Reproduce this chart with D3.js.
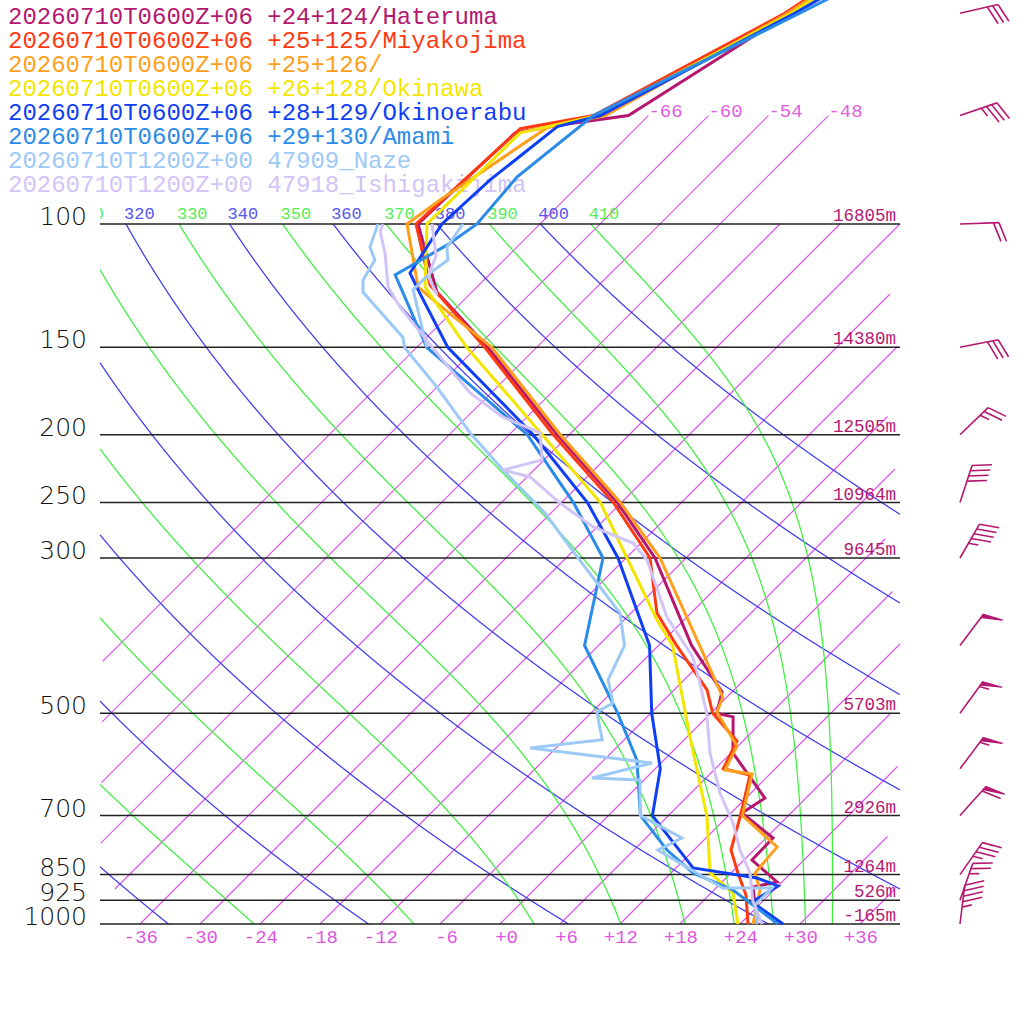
<!DOCTYPE html>
<html>
<head>
<meta charset="utf-8">
<script src="https://cdn.jsdelivr.net/npm/d3@7"></script>
<style>
  html, body { margin: 0; padding: 0; background: #fff; }
  svg { display: block; }
</style>
</head>
<body>
<svg id="chart" width="1024" height="1024"></svg>
<script>
// ---- series (pressure hPa / temperature degC) ----
const seriesNames = [
  "20260710T0600Z+06 +24+124/Hateruma",
  "20260710T0600Z+06 +25+125/Miyakojima",
  "20260710T0600Z+06 +25+126/",
  "20260710T0600Z+06 +26+128/Okinawa",
  "20260710T0600Z+06 +28+129/Okinoerabu",
  "20260710T0600Z+06 +29+130/Amami",
  "20260710T1200Z+00 47909_Naze",
  "20260710T1200Z+00 47918_Ishigakijima",
];
const seriesColors = ["#b5176f", "#ff3a12", "#ff9f1c", "#f2e600", "#0f3ff5", "#2b8be8", "#9dc9f7", "#d2c4f7"];

const haterumaP = [30, 50, 70, 72.2, 74.1, 100, 125.1, 150, 200, 250, 300, 400, 466.2, 500, 506, 569.8, 660.9, 694.1, 753.6, 810.2, 870.9, 885.3, 939.4, 1000];
const haterumaT = [-51.9, -62.1, -68.0, -73.9, -77.6, -78.2, -69.5, -58.9, -43.2, -30.4, -21.1, -8.7, -1.0, 0.6, 2.6, 6.2, 13.9, 13.1, 18.7, 18.8, 23.5, 21.6, 23.6, 25.7];

const miyakoP = [30, 50, 70, 73.1, 100, 122.2, 150, 200, 250, 300, 359.6, 400, 463, 500, 547.8, 600, 612.6, 700, 784, 850, 909, 1000];
const miyakoT = [-54.7, -62.6, -71.5, -77.5, -78.4, -70.9, -59.2, -43.6, -30.8, -21.6, -15.4, -10.2, -2.7, 0.2, 5.4, 6.8, 10.1, 13.2, 15.7, 18.9, 21.7, 24.8];

const pt126P = [30, 50, 70, 72.8, 92.5, 100, 123, 129.7, 150, 200, 250, 300, 400, 474.3, 498.1, 556.9, 602.6, 610.6, 700, 776.1, 845.5, 894.2, 1000];
const pt126T = [-54.4, -62.3, -70.3, -74.9, -78.4, -79.3, -71.9, -68.4, -58.5, -42.9, -30.1, -20.6, -7.9, -0.4, 0.5, 5.9, 7.1, 10.2, 13.4, 20.0, 20.4, 22.6, 25.3];

const okinawaP = [30, 50, 70, 74.1, 100, 123, 150, 200, 250, 300, 367.9, 400, 540.6, 703.2, 845.5, 903.1, 1000];
const okinawaT = [-54.0, -61.9, -71.1, -77.1, -77.3, -71.2, -61.0, -44.7, -32.1, -23.9, -14.7, -10.6, 0.3, 10.0, 15.9, 20.2, 23.8];

const okinoerabuP = [30, 50, 70, 72.6, 86.5, 100, 117.5, 124.2, 150, 200, 250, 300, 400, 500, 600, 700, 831.6, 859.6, 882.4, 930.2, 1000];
const okinoerabuT = [-50.2, -61.6, -70.8, -74.0, -75.4, -75.8, -74.1, -71.6, -62.9, -45.6, -33.4, -24.8, -12.9, -5.9, 0.5, 4.4, 13.7, 21.1, 24.0, 23.0, 28.3];

const amamiP = [30, 50, 70, 85.7, 100, 107.2, 118.2, 150, 200, 250, 300, 400, 500, 583.2, 700, 784, 845.5, 894.2, 1000];
const amamiT = [-46.2, -61.1, -71.5, -73.0, -72.3, -73.2, -75.4, -65.0, -46.2, -34.8, -26.3, -19.4, -9.3, -2.7, 3.2, 9.3, 14.2, 19.9, 27.8];

const nazeP = [100, 107.9, 112.6, 120.2, 125.1, 145.1, 150.4, 171, 198.8, 224.6, 258.8, 300, 359.6, 400, 448.1, 483.4, 498.1, 545.6, 560.5, 588.9, 618.7, 622.8, 700, 753.6, 784, 851.1, 888.4, 888.4, 939.4, 1000];
const nazeT = [-82.2, -80.7, -78.9, -78.1, -76.9, -68.4, -67.1, -60.0, -52.1, -45.1, -36.6, -28.8, -19.1, -15.4, -13.6, -10.8, -11.5, -8.2, -14.6, -0.9, -5.4, -0.4, 3.2, 9.6, 8.4, 15.1, 18.7, 23.6, 23.6, 25.7];
const nazeUpperP = [100, 107.9, 112.6, 117.5, 124.2, 150];
const nazeUpperT = [-73.7, -73.0, -71.6, -72.1, -72.1, -65.0];

const ishigakiP = [100, 102.6, 110, 123, 131.4, 152.9, 174.3, 188.8, 198.8, 217.3, 224.6, 229.8, 250.4, 270.8, 285.6, 302, 364.4, 415.6, 452.7, 500, 569.8, 649.9, 717.3, 784, 845.5, 925, 1000];
const ishigakiT = [-81.7, -81.2, -78.6, -74.9, -71.7, -63.4, -56.1, -50.4, -45.1, -42.2, -45.1, -41.7, -36.1, -30.4, -24.8, -21.7, -14.0, -7.4, -4.1, -0.4, 3.9, 8.9, 13.2, 16.6, 19.9, 22.9, 26.2];
const ishigakiUpperP = [100, 111.1, 118.6, 126.3];
const ishigakiUpperT = [-76.8, -73.2, -72.0, -69.2];

// wind (Hateruma) : direction deg, speed kt
const windP = [50, 70, 100, 150, 200, 250, 300, 400, 500, 600, 700, 850, 925, 1000];
const windDir = [77, 71, 88, 79, 46, 18, 30, 37, 36, 37, 42, 35, 19, 7];
const windSpd = [30, 35, 20, 30, 25, 40, 45, 50, 55, 55, 60, 35, 25, 45];

// ---- axes / grid values ----
const levelP = [100, 150, 200, 250, 300, 500, 700, 850, 925, 1000];
const levelHeights = ["16805m", "14380m", "12505m", "10964m", "9645m", "5703m", "2926m", "1264m", "526m", "-165m"];
const isothermT = [-66, -60, -54, -48, -42, -36, -30, -24, -18, -12, -6, 0, 6, 12, 18, 24, 30, 36];
const isothermLabelT = [-66, -60, -54, -48];
const bottomTicks = [-36, -30, -24, -18, -12, -6, 0, 6, 12, 18, 24, 30, 36];
const dryTheta = [240, 260, 280, 300, 320, 340, 360, 380, 400];
const moistThetaE = [250, 270, 290, 310, 330, 350, 370, 390, 410];

const series = [
  { parts: [[haterumaP, haterumaT]] },
  { parts: [[miyakoP, miyakoT]] },
  { parts: [[pt126P, pt126T]] },
  { parts: [[okinawaP, okinawaT]] },
  { parts: [[okinoerabuP, okinoerabuT]] },
  { parts: [[amamiP, amamiT]] },
  { parts: [[nazeP, nazeT], [nazeUpperP, nazeUpperT]] },
  { parts: [[ishigakiP, ishigakiT], [ishigakiUpperP, ishigakiUpperT]] },
];

const svg = d3.select("#chart");
const mono = "'Liberation Mono', 'DejaVu Sans Mono', monospace";

const y = d3.scaleLog().domain([1000, 100]).range([924, 224]);
const xT = d3.scaleLinear().domain([-40, 40]).range([100, 900]);
function skewX(T, p) {
  return xT(T) + (y(1000) - y(p));
}

// pressure samples for curved grid lines
const sampleP = d3.range(0, 91).map((i) => 1000 * Math.pow(0.1, i / 90));

function thetaESat(Tk, p) {
  const Tc = Tk - 273.15;
  const es = 6.112 * Math.exp((17.67 * Tc) / (Tc + 243.5));
  if (es > p * 0.8) return Infinity;
  const r = (1000 * 0.622 * es) / (p - es);
  return Tk * Math.pow(1000 / p, 0.2854 * (1 - 0.00028 * r)) *
    Math.exp((3.376 / Tk - 0.00254) * r * (1 + 0.00081 * r));
}
function moistT(thetaE, p) {
  let lo = 120, hi = 340;
  for (let i = 0; i < 60; i++) {
    const mid = (lo + hi) / 2;
    if (thetaESat(mid, p) > thetaE) hi = mid; else lo = mid;
  }
  return (lo + hi) / 2 - 273.15;
}
function dryT(theta, p) {
  return theta * Math.pow(p / 1000, 0.2857) - 273.15;
}

// clip a polyline to the band 100 <= x <= 900 by sampling finely
function clipX(pts) {
  const out = [];
  let cur = [];
  for (let i = 0; i < pts.length - 1; i++) {
    const [x0, y0] = pts[i], [x1, y1] = pts[i + 1];
    const n = 40;
    for (let k = 0; k <= n; k++) {
      const t = k / n;
      const x = x0 + (x1 - x0) * t, yy = y0 + (y1 - y0) * t;
      if (x >= 100 && x <= 900) cur.push([x, yy]);
      else if (cur.length) { out.push(cur); cur = []; }
    }
  }
  if (cur.length) out.push(cur);
  return out;
}

const lineGen = d3.line().x((d) => d[0]).y((d) => d[1]);

// isotherms
const isoG = svg.append("g");
isothermT.forEach((T) => {
  const pTop = T <= -48 ? 70 : 100;
  const segs = clipX([[skewX(T, 1000), y(1000)], [skewX(T, pTop), y(pTop)]]);
  segs.forEach((seg) => {
    isoG.append("path")
      .attr("d", lineGen(seg))
      .attr("fill", "none")
      .attr("stroke", "#da50ea")
      .attr("stroke-width", 1.1);
  });
});
isothermLabelT.forEach((T) => {
  svg.append("text")
    .attr("x", skewX(T, 70)).attr("y", y(70) + 1)
    .attr("font-family", mono).attr("font-size", 19)
    .attr("fill", "#e060e0").text(T);
});

// dry and moist adiabats (kept inside 100..1000 hPa)
const adG = svg.append("g");
dryTheta.forEach((th) => {
  const pts = sampleP.map((p) => [skewX(dryT(th, p), p), y(p)]);
  clipX(pts).forEach((seg) => {
    adG.append("path").attr("d", lineGen(seg)).attr("fill", "none")
      .attr("stroke", "#3c3cf0").attr("stroke-width", 1.25);
  });
});
moistThetaE.forEach((th) => {
  const pts = sampleP.map((p) => [skewX(moistT(th, p), p), y(p)]);
  clipX(pts).forEach((seg) => {
    adG.append("path").attr("d", lineGen(seg)).attr("fill", "none")
      .attr("stroke", "#3cf03c").attr("stroke-width", 1.25);
  });
});

// theta labels along 100 hPa (partial label at the left edge is cut by a clip)
const defs = svg.append("defs");
defs.append("clipPath").attr("id", "clipLab")
  .append("rect").attr("x", 100).attr("y", 190).attr("width", 800).attr("height", 40);
const labG = svg.append("g").attr("clip-path", "url(#clipLab)");
dryTheta.forEach((th) => {
  const lx = skewX(dryT(th, 100), 100) - 2;
  if (lx < 60) return;
  labG.append("text")
    .attr("x", lx).attr("y", 219)
    .attr("font-family", mono).attr("font-size", 17)
    .attr("fill", "#5555f0").text(th);
});
moistThetaE.forEach((th) => {
  const lx = skewX(moistT(th, 100), 100) - 2;
  if (lx < 60) return;
  labG.append("text")
    .attr("x", lx).attr("y", 219)
    .attr("font-family", mono).attr("font-size", 17)
    .attr("fill", "#55ee55").text(th);
});

// pressure levels
levelP.forEach((p, i) => {
  svg.append("line")
    .attr("x1", 100).attr("x2", 900).attr("y1", y(p)).attr("y2", y(p))
    .attr("stroke", "#222").attr("stroke-width", 1.5);
  svg.append("text")
    .attr("x", 87).attr("y", y(p) + 1)
    .attr("text-anchor", "end")
    .attr("font-family", "'DejaVu Sans', sans-serif").attr("font-weight", 300)
    .attr("font-size", 25).attr("fill", "#111").text(p);
  svg.append("text")
    .attr("x", 896).attr("y", y(p) - 3)
    .attr("text-anchor", "end")
    .attr("font-family", mono).attr("font-size", 17.5)
    .attr("fill", "#b5176f").text(levelHeights[i]);
});

// bottom temperature labels
bottomTicks.forEach((T) => {
  svg.append("text")
    .attr("x", xT(T) + 18).attr("y", 943)
    .attr("text-anchor", "end")
    .attr("font-family", mono).attr("font-size", 19)
    .attr("fill", "#e055e0")
    .text((T >= 0 ? "+" : "") + T);
});

// legend
seriesNames.forEach((name, i) => {
  svg.append("text")
    .attr("x", 8).attr("y", 24 + i * 24)
    .attr("font-family", mono).attr("font-size", 24)
    .attr("fill", seriesColors[i]).text(name);
});

// profiles
const profG = svg.append("g");
series.forEach((s, i) => {
  s.parts.forEach(([ps, ts]) => {
    const pts = ps.map((p, k) => [skewX(ts[k], p), y(p)]);
    profG.append("path").attr("d", lineGen(pts)).attr("fill", "none")
      .attr("stroke", seriesColors[i]).attr("stroke-width", 3);
  });
});

// wind barbs
const barbG = svg.append("g").attr("stroke", seriesColors[0]).attr("fill", seriesColors[0]);
windP.forEach((p, i) => {
  const cx = 960, cy = y(p);
  const a = (windDir[i] * Math.PI) / 180;
  const ux = Math.sin(a), uy = -Math.cos(a);
  const L = 39;
  const tx = cx + ux * L, ty = cy + uy * L;
  const fa = ((windDir[i] + 70) * Math.PI) / 180;
  const fx = Math.sin(fa), fy = -Math.cos(fa);
  barbG.append("line").attr("x1", cx).attr("y1", cy).attr("x2", tx).attr("y2", ty)
    .attr("stroke-width", 1.6);
  let rest = windSpd[i];
  let pos = 0;
  const at = (d) => [tx - ux * d, ty - uy * d];
  while (rest >= 50) {
    const p0 = at(pos), p2 = at(pos + 4);
    barbG.append("polygon")
      .attr("points", [p0, [p0[0] + fx * 20, p0[1] + fy * 20], p2].map((q) => q.join(",")).join(" "))
      .attr("stroke-width", 1.2);
    pos += 6;
    rest -= 50;
  }
  while (rest >= 10) {
    const p0 = at(pos);
    barbG.append("line").attr("x1", p0[0]).attr("y1", p0[1])
      .attr("x2", p0[0] + fx * 20).attr("y2", p0[1] + fy * 20).attr("stroke-width", 1.6);
    pos += 5.5;
    rest -= 10;
  }
  if (rest >= 5) {
    if (pos === 0) pos = 5.5;
    const p0 = at(pos);
    barbG.append("line").attr("x1", p0[0]).attr("y1", p0[1])
      .attr("x2", p0[0] + fx * 10).attr("y2", p0[1] + fy * 10).attr("stroke-width", 1.6);
  }
});
</script>
</body>
</html>
